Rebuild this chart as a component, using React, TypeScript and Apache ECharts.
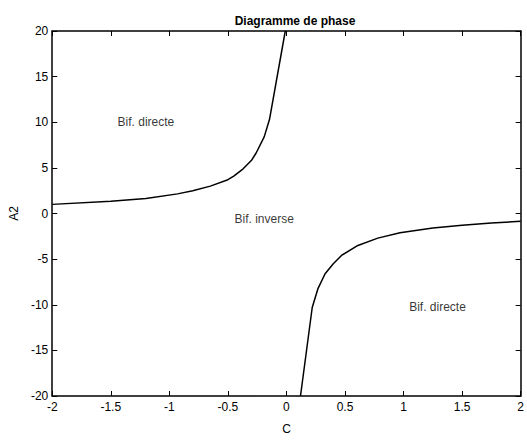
import React, { useEffect, useRef } from "react";
import * as echarts from "echarts";

const xTicks = [-2, -1.5, -1, -0.5, 0, 0.5, 1, 1.5, 2];
const yTicks = [-20, -15, -10, -5, 0, 5, 10, 15, 20];

// Upper-left boundary (c < 0)
const curveUpper: [number, number][] = [
  [-2, 1.0], [-1.5, 1.35], [-1.2, 1.65], [-0.93, 2.15], [-0.8, 2.5], [-0.65, 3.0],
  [-0.5, 3.7], [-0.45, 4.1], [-0.37, 4.9], [-0.3, 5.8], [-0.26, 6.6],
  [-0.19, 8.4], [-0.145, 10.3], [-0.01, 20],
];
// Lower-right boundary (c > 0)
const curveLower: [number, number][] = [
  [0.12, -20], [0.22, -10.3], [0.27, -8.2], [0.33, -6.6], [0.4, -5.5],
  [0.47, -4.6], [0.61, -3.5], [0.78, -2.7], [0.97, -2.1], [1.25, -1.6],
  [1.5, -1.3], [1.75, -1.05], [2, -0.85],
];

const regionLabels: { text: string; c: number; a: number }[] = [
  { text: "Bif. directe", c: -1.2, a: 10 },
  { text: "Bif. inverse", c: -0.19, a: -0.6 },
  { text: "Bif. directe", c: 1.29, a: -10.2 },
];

const FONT = "'Liberation Sans', Arial, sans-serif";

export default function App() {
  const ref = useRef<HTMLDivElement>(null);
  useEffect(() => {
    if (!ref.current) return;
    const chart = echarts.init(ref.current, null, { renderer: "svg" });
    const axisLine = { show: true, onZero: false, lineStyle: { color: "#000", width: 1.5 } };
    const axisTick = { show: true, inside: true, length: 5, lineStyle: { color: "#000", width: 1 } };
    const labelStyle = { color: "#000", fontSize: 12, fontFamily: FONT };
    chart.setOption({
      animation: false,
      backgroundColor: "#fff",
      title: {
        text: "Diagramme de phase",
        left: 290,
        top: 10,
        textAlign: "center",
        textStyle: { color: "#000", fontSize: 12, fontWeight: "bold", fontFamily: FONT },
      },
      grid: { left: 46, right: 5, top: 31, bottom: 32 },
      xAxis: [
        {
          type: "value",
          min: -2,
          max: 2,
          interval: 0.5,
          position: "bottom",
          name: "C",
          nameLocation: "middle",
          nameGap: 27,
          nameTextStyle: labelStyle,
          axisLine,
          axisTick,
          splitLine: { show: false },
          axisLabel: { ...labelStyle, margin: 5, formatter: (v: number) => (xTicks.includes(v) ? String(v) : "") },
        },
        {
          type: "value",
          min: -2,
          max: 2,
          interval: 0.5,
          position: "top",
          axisLine,
          axisTick,
          splitLine: { show: false },
          axisLabel: { show: false },
        },
      ],
      yAxis: [
        {
          type: "value",
          min: -20,
          max: 20,
          interval: 5,
          position: "left",
          name: "A2",
          nameLocation: "middle",
          nameGap: 31,
          nameTextStyle: labelStyle,
          axisLine,
          axisTick,
          splitLine: { show: false },
          axisLabel: { ...labelStyle, margin: 4, formatter: (v: number) => (yTicks.includes(v) ? String(v) : "") },
        },
        {
          type: "value",
          min: -20,
          max: 20,
          interval: 5,
          position: "right",
          axisLine,
          axisTick,
          splitLine: { show: false },
          axisLabel: { show: false },
        },
      ],
      series: [
        {
          type: "line",
          data: curveUpper,
          showSymbol: false,
          lineStyle: { color: "#000", width: 1.5 },
        },
        {
          type: "line",
          data: curveLower,
          showSymbol: false,
          lineStyle: { color: "#000", width: 1.5 },
        },
        {
          type: "scatter",
          data: regionLabels.map((r) => ({ value: [r.c, r.a], name: r.text })),
          symbolSize: 0,
          silent: true,
          label: {
            show: true,
            position: "inside",
            formatter: (p: any) => p.name,
            color: "#000",
            fontSize: 12,
            fontFamily: FONT,
          },
        },
      ],
    });
    return () => chart.dispose();
  }, []);
  return (
    <div
      ref={ref}
      style={{ position: "fixed", left: 0, top: 0, width: 527, height: 440, background: "#fff" }}
    />
  );
}
